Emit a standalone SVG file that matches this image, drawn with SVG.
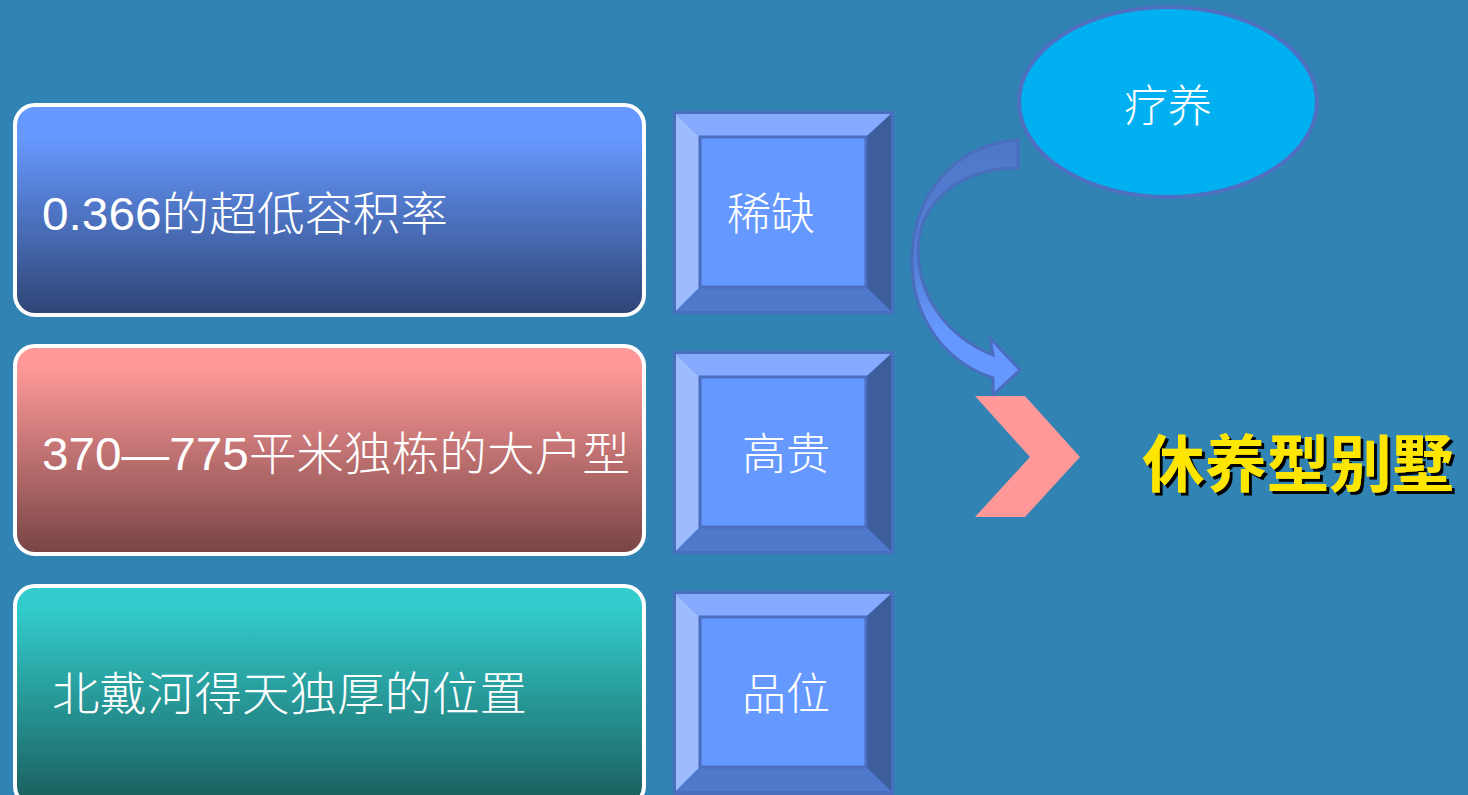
<svg xmlns="http://www.w3.org/2000/svg" width="1468" height="795" viewBox="0 0 1468 795">
<defs>
<linearGradient id="g1" x1="0" y1="0" x2="0" y2="1"><stop offset="0.15" stop-color="#6699FF"/><stop offset="1" stop-color="#2E4474"/></linearGradient>
<linearGradient id="g2" x1="0" y1="0" x2="0" y2="1"><stop offset="0.1" stop-color="#FF9999"/><stop offset="1" stop-color="#774444"/></linearGradient>
<linearGradient id="g3" x1="0" y1="0" x2="0" y2="1"><stop offset="0.1" stop-color="#33CCCC"/><stop offset="1" stop-color="#1A5C5C"/></linearGradient>
<linearGradient id="ga" x1="0" y1="0" x2="0" y2="1"><stop offset="0" stop-color="#4F78C8"/><stop offset="0.5" stop-color="#5580D8"/><stop offset="0.75" stop-color="#6699FF"/></linearGradient>
<filter id="sh" x="-5%" y="-5%" width="115%" height="130%"><feDropShadow dx="3" dy="3" stdDeviation="0.5" flood-color="#000" flood-opacity="1"/></filter>
</defs>
<style>
.box{stroke:#FFFFFF;stroke-width:4}
.t{font-family:"Liberation Sans","Noto Sans CJK SC",sans-serif;font-size:46px;fill:#FFFFFF}
.c{font-family:"Noto Sans CJK SC",sans-serif;font-weight:300}
.bt{font-family:"Noto Sans CJK SC",sans-serif;font-size:44px;fill:#FFFFFF;font-weight:300}
.edge{stroke:#4A6DBE;stroke-width:3}
</style>
<rect width="1468" height="795" fill="#3083B3"/>

<g id="node-1">
<rect class="box" x="15" y="105" width="629" height="210" rx="20" fill="url(#g1)"/>
<text class="t" x="42" y="230" textLength="406" lengthAdjust="spacingAndGlyphs">0.366<tspan class="c">的超低容积率</tspan></text>
</g>
<g id="node-2">
<rect class="box" x="15" y="346" width="629" height="208" rx="20" fill="url(#g2)"/>
<text class="t" x="42" y="470" textLength="588" lengthAdjust="spacingAndGlyphs">370—775<tspan class="c">平米独栋的大户型</tspan></text>
</g>
<g id="node-3">
<rect class="box" x="15" y="586" width="629" height="220" rx="20" fill="url(#g3)"/>
<text class="t c" x="52" y="710" textLength="475" lengthAdjust="spacingAndGlyphs">北戴河得天独厚的位置</text>
</g>

<g id="bevel-1">
<rect x="673" y="111" width="221" height="203" fill="#4A6DBE"/>
<polygon points="676,114 891,114 866,137 700,137" fill="#85AAFF"/>
<polygon points="676,114 700,137 700,287 676,311" fill="#9DBBFF"/>
<polygon points="891,114 891,311 866,287 866,137" fill="#3D5D9C"/>
<polygon points="676,311 700,287 866,287 891,311" fill="#5079CC"/>
<rect x="700" y="137" width="166" height="150" fill="#6699FF" class="edge"/>
<text class="bt" x="771" y="230" text-anchor="middle">稀缺</text>
</g>
<g id="bevel-2">
<rect x="673" y="351" width="221" height="203" fill="#4A6DBE"/>
<polygon points="676,354 891,354 866,377 700,377" fill="#85AAFF"/>
<polygon points="676,354 700,377 700,527 676,551" fill="#9DBBFF"/>
<polygon points="891,354 891,551 866,527 866,377" fill="#3D5D9C"/>
<polygon points="676,551 700,527 866,527 891,551" fill="#5079CC"/>
<rect x="700" y="377" width="166" height="150" fill="#6699FF" class="edge"/>
<text class="bt" x="786" y="470" text-anchor="middle">高贵</text>
</g>
<g id="bevel-3">
<rect x="673" y="591" width="221" height="210" fill="#4A6DBE"/>
<polygon points="676,594 891,594 866,617 700,617" fill="#85AAFF"/>
<polygon points="676,594 700,617 700,767 676,791" fill="#9DBBFF"/>
<polygon points="891,594 891,791 866,767 866,617" fill="#3D5D9C"/>
<polygon points="676,791 700,767 866,767 891,791" fill="#5079CC"/>
<rect x="700" y="617" width="166" height="150" fill="#6699FF" class="edge"/>
<text class="bt" x="786" y="710" text-anchor="middle">品位</text>
</g>

<g id="node-liaoyang">
<ellipse cx="1168" cy="102" rx="149" ry="95" fill="#00B0F0" stroke="#4F6FC0" stroke-width="4"/>
<text class="bt" x="1168" y="122" text-anchor="middle">疗养</text>
</g>

<g id="connectors">
<path d="M1018,140 C955,144 912,195 912,262 C912,318 945,362 993,378 L993,395 L1020,370 L990,338 L993,355 C950,338 918,300 918,248 C920,200 962,168 1018,168 Z" fill="url(#ga)" stroke="#4A6DBE" stroke-width="3" stroke-linejoin="miter"/>
<polygon points="975,396 1025,396 1080,457 1025,517 975,517 1030,457" fill="#FF9999"/>
</g>

<g id="node-result">
<text x="1142" y="487" font-family="Noto Sans CJK SC, sans-serif" font-size="62" font-weight="bold" fill="#FFE600" filter="url(#sh)" textLength="312" lengthAdjust="spacingAndGlyphs">休养型别墅</text>
</g>
</svg>
